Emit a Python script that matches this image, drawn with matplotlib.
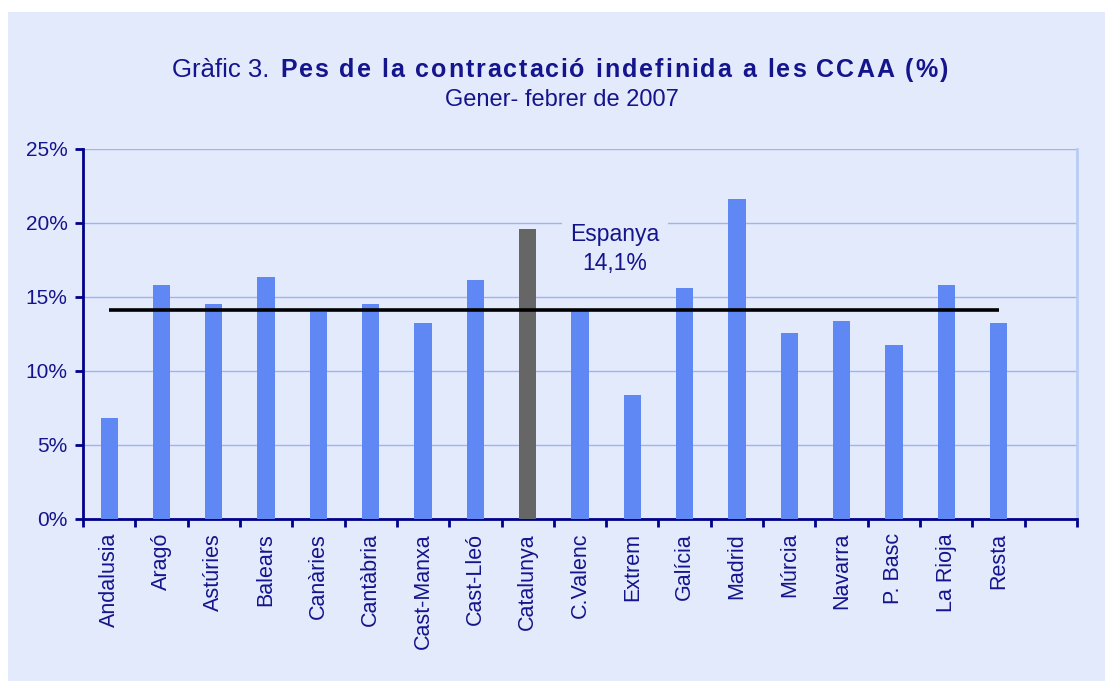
import matplotlib
matplotlib.use("Agg")
import matplotlib.pyplot as plt
from matplotlib.patches import Rectangle
from matplotlib.ticker import FixedLocator, FuncFormatter
import numpy as np

categories = ["Andalusia", "Aragó", "Astúries", "Balears", "Canàries", "Cantàbria",
              "Cast-Manxa", "Cast-Lleó", "Catalunya", "C.Valenc", "Extrem", "Galícia",
              "Madrid", "Múrcia", "Navarra", "P. Basc", "La Rioja", "Resta"]
values = [6.8, 15.8, 14.5, 16.35, 14.0, 14.5, 13.25, 16.15, 19.6, 14.2, 8.4, 15.6,
          21.6, 12.6, 13.4, 11.75, 15.8, 13.25]
espanya = 14.1
highlight = "Catalunya"
yticks = [0, 5, 10, 15, 20, 25]

BG = "#E3EAFB"
NAVY = "#14148C"
BLUE = "#5F88F5"
GREY = "#666666"
GRID = "#9DB4F2"

plt.rcParams['font.family'] = ['Liberation Sans', 'DejaVu Sans']

fig = plt.figure(figsize=(11.05, 6.81), dpi=100)
fig.patch.set_facecolor("white")
fig.patches.append(Rectangle((8/1105, 0), 1, 1 - 12/681, transform=fig.transFigure,
                             facecolor=BG, edgecolor="none", zorder=-10))

ax = fig.add_axes([83/1105, 1 - 519/681, (1077-83)/1105, (519-149)/681])
ax.set_facecolor(BG)
n = len(categories)
x = np.arange(n)
colors = [GREY if c == highlight else BLUE for c in categories]
ax.bar(x, values, width=0.33, color=colors, zorder=3)
ax.hlines(espanya, 0, n - 1, color="black", lw=2.6, zorder=4)

ax.set_xlim(-0.5, n + 0.5)
ax.set_ylim(0, 25)
ax.yaxis.set_major_locator(FixedLocator(yticks))
ax.yaxis.set_major_formatter(FuncFormatter(lambda v, p: f"{int(v)}%"))
ax.grid(axis="y", color=GRID, lw=1, zorder=0)

ax.set_xticks(x)
ax.set_xticklabels(categories, rotation=90, fontsize=15.5, color=NAVY)
ax.xaxis.set_minor_locator(FixedLocator(np.arange(-0.5, n + 1, 1)))
ax.tick_params(axis="x", which="major", length=0, pad=10)
ax.tick_params(axis="x", which="minor", length=6, width=2, color="#00008B", direction="out")
ax.tick_params(axis="y", length=6, width=2, color="#00008B", labelsize=15, labelcolor=NAVY, pad=5)

for s in ["left", "bottom"]:
    ax.spines[s].set_color("#00008B")
    ax.spines[s].set_linewidth(2)
ax.spines["top"].set_visible(False)
ax.spines["right"].set_color("#B8CCF5")
ax.spines["right"].set_linewidth(2)

ax.text(9.67, 18.25, f"Espanya\n{str(espanya).replace('.', ',')}%", ha="center", va="center",
        fontsize=16.5, color=NAVY, linespacing=1.3, zorder=5,
        bbox=dict(facecolor=BG, edgecolor="none", pad=6))

title_y = 1 - 77/681
fig.text(276/1105, title_y, "Gràfic 3. ", ha="right", va="baseline",
         fontsize=18.5, color=NAVY)

# bold part with letter spacing
bold_title = "Pes de la contractació indefinida a les CCAA (%)"
renderer = fig.canvas.get_renderer()
target_left, target_right = 280, 948
# measure natural widths
widths = []
for ch in bold_title:
    if ch == " ":
        t = fig.text(0, 0, "a a", fontsize=18, fontweight="bold")
        w_full = t.get_window_extent(renderer).width
        t.set_text("aa")
        w = w_full - t.get_window_extent(renderer).width
    else:
        t = fig.text(0, 0, ch, fontsize=18, fontweight="bold")
        w = t.get_window_extent(renderer).width
    t.remove()
    widths.append(w)
gap = (target_right - target_left - sum(widths)) / (len(bold_title) - 1)
cx = target_left
for ch, w in zip(bold_title, widths):
    if ch != " ":
        fig.text(cx / 1105, title_y, ch, ha="left", va="baseline",
                 fontsize=18, fontweight="bold", color=NAVY)
    cx += w + gap

fig.text(562/1105, 1 - 106/681, "Gener- febrer de 2007", ha="center", va="baseline",
         fontsize=17, color=NAVY)

fig.savefig("out.png", dpi=100, facecolor=fig.get_facecolor())
